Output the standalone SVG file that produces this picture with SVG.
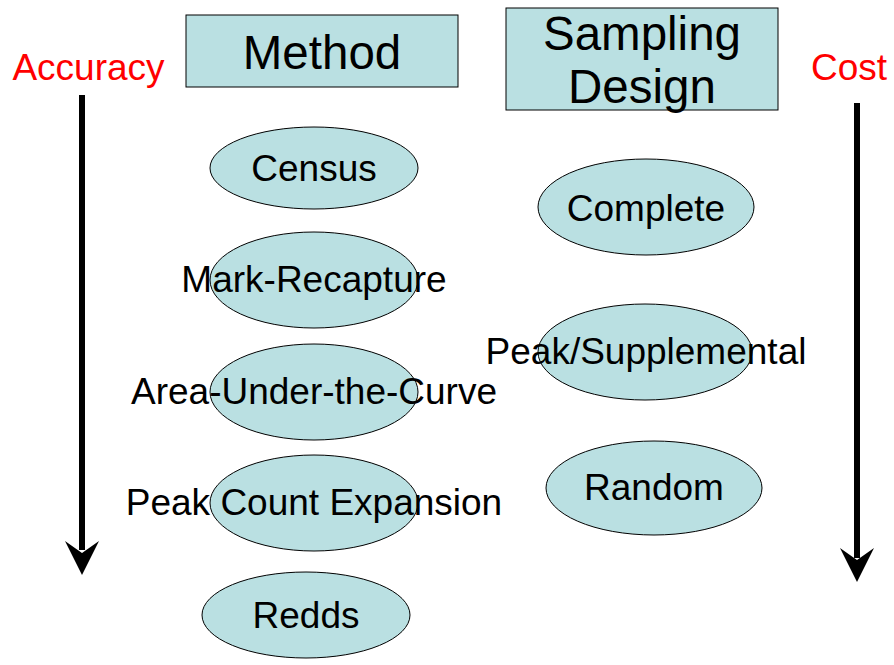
<svg xmlns="http://www.w3.org/2000/svg" width="894" height="665" viewBox="0 0 894 665">
<style>
.box{fill:#bae0e2;stroke:#000;stroke-width:1}
.ell{fill:#bae0e2;stroke:#000;stroke-width:1}
.t{font-family:"Liberation Sans",Arial,sans-serif;fill:#000;text-anchor:middle}
.big{font-size:47.5px}
.lbl{font-size:37px}
.red{font-family:"Liberation Sans",Arial,sans-serif;fill:#ff0000;font-size:37px;text-anchor:middle}
.ax{stroke:#000;stroke-width:6;fill:none}
.head{fill:#000}
</style>
<rect width="894" height="665" fill="#fff"/>
<g id="connectors">
<line class="ax" x1="82" y1="95" x2="82" y2="550"/>
<polygon class="head" points="82,575 65,541 82,553 99,541"/>
<line class="ax" x1="857" y1="103" x2="857" y2="558"/>
<polygon class="head" points="857,582 840,548 857,560 874,548"/>
</g>
<g id="accuracy"><text class="red" x="88.5" y="80">Accuracy</text></g>
<g id="cost"><text class="red" x="849" y="80">Cost</text></g>
<g id="method"><rect class="box" x="186" y="15" width="272" height="72"/><text class="t big" x="322" y="69">Method</text></g>
<g id="sampling-design"><rect class="box" x="506" y="8" width="272" height="102"/><text class="t big" x="642" y="50">Sampling</text><text class="t big" x="642" y="103">Design</text></g>
<g id="census"><ellipse class="ell" cx="314" cy="168" rx="104" ry="41"/><text class="t lbl" x="314" y="181">Census</text></g>
<g id="mark-recapture"><ellipse class="ell" cx="314" cy="280" rx="104" ry="48"/><text class="t lbl" x="314" y="292">Mark-Recapture</text></g>
<g id="auc"><ellipse class="ell" cx="314" cy="392" rx="104" ry="48"/><text class="t lbl" x="314" y="404">Area-Under-the-Curve</text></g>
<g id="peak-count"><ellipse class="ell" cx="314" cy="503" rx="104" ry="48"/><text class="t lbl" x="314" y="515">Peak Count Expansion</text></g>
<g id="redds"><ellipse class="ell" cx="306" cy="615" rx="104" ry="43"/><text class="t lbl" x="306" y="628">Redds</text></g>
<g id="complete"><ellipse class="ell" cx="646" cy="207" rx="108" ry="48"/><text class="t lbl" x="646" y="221">Complete</text></g>
<g id="peak-supplemental"><ellipse class="ell" cx="645" cy="352" rx="107" ry="48"/><text class="t lbl" x="646" y="364">Peak/Supplemental</text></g>
<g id="random"><ellipse class="ell" cx="654" cy="488" rx="108" ry="47"/><text class="t lbl" x="654" y="500">Random</text></g>
</svg>
